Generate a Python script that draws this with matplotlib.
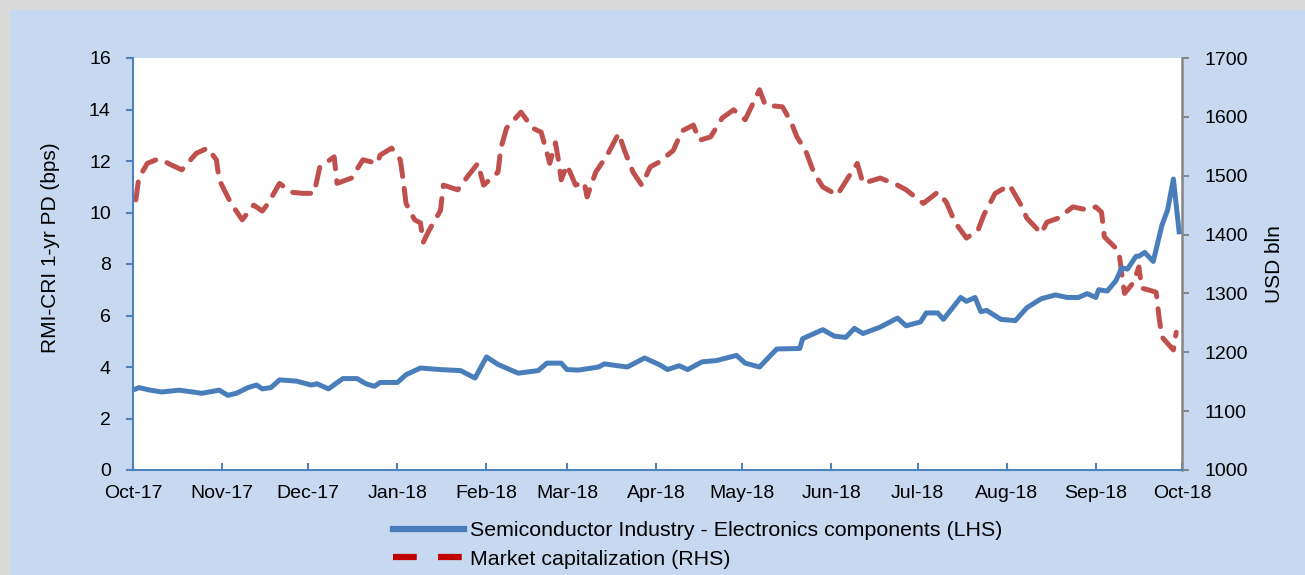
import numpy as np
import pandas as pd
import matplotlib
matplotlib.use("Agg")
import matplotlib.pyplot as plt
import matplotlib.dates as mdates
from matplotlib.lines import Line2D
from matplotlib.patches import Rectangle

plt.rcParams['font.family'] = ['Liberation Sans', 'DejaVu Sans']

# RMI-CRI 1-yr PD (bps), left axis
pd_dates = ["2017-10-02", "2017-10-03", "2017-10-07", "2017-10-11", "2017-10-17", "2017-10-25",
            "2017-10-31", "2017-11-03", "2017-11-06", "2017-11-10", "2017-11-13", "2017-11-15",
            "2017-11-18", "2017-11-21", "2017-11-27", "2017-12-02", "2017-12-04", "2017-12-08",
            "2017-12-13", "2017-12-18", "2017-12-21", "2017-12-24", "2017-12-26", "2018-01-01",
            "2018-01-04", "2018-01-09", "2018-01-16", "2018-01-23", "2018-01-28", "2018-02-01",
            "2018-02-05", "2018-02-12", "2018-02-19", "2018-02-22", "2018-02-27", "2018-03-01",
            "2018-03-05", "2018-03-12", "2018-03-14", "2018-03-22", "2018-03-28", "2018-04-02",
            "2018-04-05", "2018-04-09", "2018-04-12", "2018-04-17", "2018-04-22", "2018-04-29",
            "2018-05-02", "2018-05-07", "2018-05-13", "2018-05-21", "2018-05-22", "2018-05-29",
            "2018-06-02", "2018-06-06", "2018-06-09", "2018-06-12", "2018-06-18", "2018-06-24",
            "2018-06-27", "2018-07-02", "2018-07-04", "2018-07-08", "2018-07-10", "2018-07-16",
            "2018-07-18", "2018-07-21", "2018-07-23", "2018-07-25", "2018-07-30", "2018-08-04",
            "2018-08-08", "2018-08-13", "2018-08-18", "2018-08-22", "2018-08-26", "2018-08-29",
            "2018-09-01", "2018-09-02", "2018-09-05", "2018-09-08", "2018-09-10", "2018-09-12",
            "2018-09-15", "2018-09-16", "2018-09-18", "2018-09-21", "2018-09-24", "2018-09-26",
            "2018-09-28", "2018-09-30"]
pd_values = [3.15, 3.2, 3.1, 3.03, 3.1, 2.98,
             3.1, 2.9, 2.98, 3.2, 3.3, 3.15,
             3.2, 3.5, 3.45, 3.3, 3.35, 3.15,
             3.55, 3.55, 3.35, 3.25, 3.4, 3.4,
             3.7, 3.96, 3.9, 3.86, 3.57, 4.39,
             4.1, 3.76, 3.86, 4.15, 4.15, 3.9,
             3.88, 4.0, 4.12, 4.0, 4.35, 4.1,
             3.9, 4.05, 3.9, 4.2, 4.25, 4.45,
             4.15, 4.0, 4.7, 4.72, 5.1, 5.45,
             5.2, 5.15, 5.5, 5.3, 5.55, 5.9,
             5.6, 5.75, 6.1, 6.1, 5.85, 6.7,
             6.55, 6.7, 6.15, 6.2, 5.85, 5.8,
             6.3, 6.65, 6.8, 6.7, 6.7, 6.85,
             6.7, 7.0, 6.95, 7.35, 7.85, 7.8,
             8.3, 8.3, 8.45, 8.1, 9.5, 10.1,
             11.3, 9.25]

# Market capitalization (USD bln), right axis
cap_dates = ["2017-10-02", "2017-10-03", "2017-10-06", "2017-10-09", "2017-10-11", "2017-10-14",
             "2017-10-18", "2017-10-23", "2017-10-27", "2017-10-30", "2017-10-31", "2017-11-04",
             "2017-11-08", "2017-11-12", "2017-11-15", "2017-11-17", "2017-11-21", "2017-11-25",
             "2017-11-29", "2017-12-03", "2017-12-05", "2017-12-10", "2017-12-11", "2017-12-16",
             "2017-12-20", "2017-12-25", "2017-12-26", "2017-12-30", "2018-01-02", "2018-01-03",
             "2018-01-04", "2018-01-07", "2018-01-09", "2018-01-10", "2018-01-12", "2018-01-16",
             "2018-01-17", "2018-01-22", "2018-01-25", "2018-01-29", "2018-01-31", "2018-02-05",
             "2018-02-06", "2018-02-08", "2018-02-13", "2018-02-17", "2018-02-20", "2018-02-22",
             "2018-02-23", "2018-02-25", "2018-02-26", "2018-02-27", "2018-03-01", "2018-03-04",
             "2018-03-07", "2018-03-08", "2018-03-11", "2018-03-15", "2018-03-19", "2018-03-21",
             "2018-03-24", "2018-03-27", "2018-03-30", "2018-04-02", "2018-04-07", "2018-04-10",
             "2018-04-14", "2018-04-16", "2018-04-20", "2018-04-24", "2018-04-28", "2018-05-02",
             "2018-05-07", "2018-05-09", "2018-05-15", "2018-05-18", "2018-05-20", "2018-05-23",
             "2018-05-26", "2018-05-29", "2018-06-03", "2018-06-07", "2018-06-10", "2018-06-12",
             "2018-06-18", "2018-06-24", "2018-06-27", "2018-07-03", "2018-07-08", "2018-07-11",
             "2018-07-14", "2018-07-18", "2018-07-22", "2018-07-24", "2018-07-28", "2018-08-02",
             "2018-08-06", "2018-08-08", "2018-08-13", "2018-08-15", "2018-08-19", "2018-08-24",
             "2018-08-29", "2018-09-01", "2018-09-03", "2018-09-04", "2018-09-09", "2018-09-10",
             "2018-09-11", "2018-09-14", "2018-09-16", "2018-09-17", "2018-09-20", "2018-09-22",
             "2018-09-23", "2018-09-24", "2018-09-28", "2018-09-29"]
cap_values = [1459, 1496, 1521, 1527, 1527, 1519,
              1510, 1538, 1547, 1527, 1493, 1454,
              1425, 1450, 1440, 1453, 1487, 1472,
              1470, 1470, 1515, 1532, 1487, 1496,
              1527, 1521, 1535, 1547, 1527, 1493,
              1453, 1425, 1420, 1387, 1407, 1441,
              1484, 1476, 1496, 1521, 1484, 1506,
              1547, 1581, 1608, 1581, 1574, 1540,
              1521, 1556, 1527, 1493, 1518, 1484,
              1489, 1464, 1506, 1535, 1572, 1543,
              1506, 1484, 1515, 1523, 1543, 1576,
              1586, 1560, 1566, 1598, 1612, 1595,
              1646, 1620, 1617, 1591, 1566, 1543,
              1504, 1481, 1467, 1498, 1521, 1487,
              1496, 1484, 1476, 1453, 1472, 1455,
              1421, 1394, 1407, 1433, 1470, 1484,
              1450, 1428, 1402, 1421, 1428, 1447,
              1442, 1447, 1438, 1396, 1372, 1335,
              1300, 1318, 1345, 1309, 1305, 1302,
              1260, 1226, 1204, 1234]

x_pd = pd.to_datetime(pd_dates)
x_cap = pd.to_datetime(cap_dates)

blue = '#4a7ebb'
red = '#c0504d'
bg = '#c6d9f1'

fig = plt.figure(figsize=(13.05, 5.75), dpi=100)
fig.patch.set_facecolor('#d9d9d9')
fig.patches.append(Rectangle((10 / 1305, 0), 1, 1 - 10 / 575, transform=fig.transFigure,
                             facecolor=bg, edgecolor='none', zorder=-10))

ax2 = fig.add_axes([133 / 1305, 1 - 470 / 575, 1049 / 1305, 412 / 575])
ax = ax2.twinx()  # left-axis series drawn on top
ax.yaxis.tick_left()
ax.yaxis.set_label_position('left')
ax2.yaxis.tick_right()
ax2.yaxis.set_label_position('right')
ax2.set_facecolor('white')

ax2.plot(x_cap, cap_values, color=red, lw=3.6, dashes=(3.6, 2.4),
         dash_capstyle='round', zorder=2)
ax.plot(x_pd, pd_values, color=blue, lw=3.6, solid_joinstyle='round', zorder=3)

ax2.set_xlim(pd.Timestamp('2017-10-01'), pd.Timestamp('2018-10-01'))
ax.set_ylim(0, 16)
ax.set_yticks(np.arange(0, 17, 2))
ax2.set_ylim(1000, 1700)
ax2.set_yticks(np.arange(1000, 1701, 100))

ax2.xaxis.set_major_locator(mdates.MonthLocator())
ax2.xaxis.set_major_formatter(mdates.DateFormatter('%b-%y'))

for a in (ax, ax2):
    for s in a.spines.values():
        s.set_visible(False)
ax.spines['left'].set_visible(True)
ax.spines['left'].set_color('#4f81bd')
ax.spines['left'].set_linewidth(1.5)
ax2.spines['bottom'].set_visible(True)
ax2.spines['bottom'].set_color('#4f81bd')
ax2.spines['bottom'].set_linewidth(1.5)
ax2.spines['right'].set_visible(True)
ax2.spines['right'].set_color('#868686')
ax2.spines['right'].set_linewidth(1.8)

ax.tick_params(axis='y', direction='out', length=5, width=1.5, color='#4f81bd',
               labelsize=14, pad=11)
ax2.tick_params(axis='x', direction='in', length=5, width=1.5, color='#4f81bd',
                labelsize=14, pad=11)
ax2.tick_params(axis='y', direction='out', length=5, width=1.5, color='#868686',
                labelsize=14, pad=11)

ax.set_ylabel('RMI-CRI 1-yr PD (bps)', fontsize=15)
ax.yaxis.set_label_coords(-0.070, 0.54)
ax2.set_ylabel('USD bln', fontsize=15)
ax2.yaxis.set_label_coords(1.079, 0.5)

handles = [Line2D([], [], color=blue, lw=4.5),
           Line2D([], [], color='#c00000', lw=4.5, dashes=(3.8, 3.4))]
labels = ['Semiconductor Industry - Electronics components (LHS)', 'Market capitalization (RHS)']
fig.legend(handles, labels, loc='upper left', bbox_to_anchor=(393 / 1305, 1 - 521 / 575),
           frameon=False, fontsize=15.4, handlelength=3.3, handletextpad=0.3,
           labelspacing=0.45, borderaxespad=0, borderpad=0)

fig.savefig('out.png', dpi=100, facecolor=fig.get_facecolor())
